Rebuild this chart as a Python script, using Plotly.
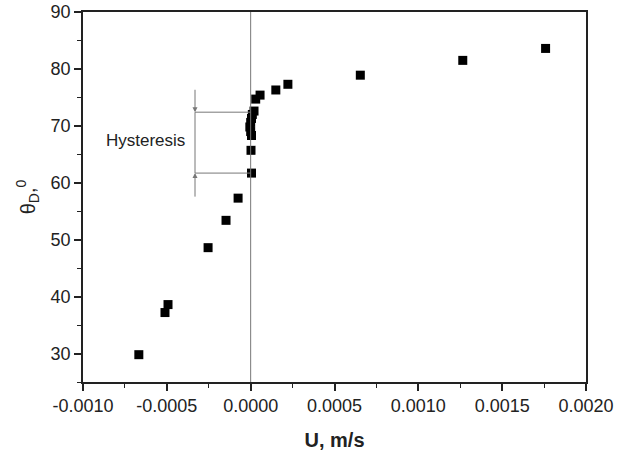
import plotly.graph_objects as go

# Data
U = [-0.000667, -0.000511, -0.000493, -0.000254, -0.000147, -0.000075,
     0.000005, 0.000002, 0.000005, 0.0, -0.000005, 0.0, 0.000005, 0.00001,
     0.00002, 0.00003, 0.000056, 0.00015, 0.000222, 0.000654, 0.001265, 0.001759]
theta = [29.8, 37.2, 38.6, 48.6, 53.4, 57.3,
         61.7, 65.7, 68.3, 69.0, 69.8, 70.6, 71.3, 72.0,
         72.6, 74.7, 75.4, 76.3, 77.3, 78.9, 81.5, 83.6]

x_tickvals = [-0.0010, -0.0005, 0.0, 0.0005, 0.0010, 0.0015, 0.0020]
x_ticktext = ["-0.0010", "-0.0005", "0.0000", "0.0005", "0.0010", "0.0015", "0.0020"]
y_tickvals = [30, 40, 50, 60, 70, 80, 90]

hyst_x = -0.000332
hyst_upper = 72.4
hyst_lower = 61.7
hyst_top = 76.6
hyst_bottom = 57.3

fig = go.Figure()
fig.add_trace(go.Scatter(x=U, y=theta, mode="markers",
                         marker=dict(symbol="square", size=9, color="black"),
                         showlegend=False))

grey = "#777777"
shapes = [
    dict(type="line", xref="x", yref="paper", x0=0, x1=0, y0=0, y1=1,
         line=dict(color=grey, width=1)),
    dict(type="line", xref="x", yref="y", x0=hyst_x, x1=0, y0=hyst_upper, y1=hyst_upper,
         line=dict(color=grey, width=1)),
    dict(type="line", xref="x", yref="y", x0=hyst_x, x1=0, y0=hyst_lower, y1=hyst_lower,
         line=dict(color=grey, width=1)),
    dict(type="line", xref="x", yref="y", x0=hyst_x, x1=hyst_x, y0=hyst_lower, y1=hyst_upper,
         line=dict(color=grey, width=1)),
]
fig.update_layout(shapes=shapes)

fig.add_annotation(x=hyst_x, y=hyst_upper, ax=hyst_x, ay=hyst_top, xref="x", yref="y",
                   axref="x", ayref="y", showarrow=True, arrowhead=2, arrowsize=1,
                   arrowwidth=1, arrowcolor=grey, text="")
fig.add_annotation(x=hyst_x, y=hyst_lower, ax=hyst_x, ay=hyst_bottom, xref="x", yref="y",
                   axref="x", ayref="y", showarrow=True, arrowhead=2, arrowsize=1,
                   arrowwidth=1, arrowcolor=grey, text="")
fig.add_annotation(x=hyst_x, y=(hyst_upper + hyst_lower) / 2 + 0.4, xref="x", yref="y",
                   text="Hysteresis", showarrow=False, xanchor="right", xshift=-8,
                   font=dict(size=17, color="#222222"))

fig.update_layout(
    width=617, height=453,
    paper_bgcolor="white", plot_bgcolor="white",
    margin=dict(l=83, r=31, t=12, b=71),
    font=dict(family="Liberation Sans, Arial, sans-serif", color="#222222"),
    xaxis=dict(range=[-0.0010, 0.0020], tickvals=x_tickvals, ticktext=x_ticktext,
               automargin=False,
               showline=True, linecolor="#222222", linewidth=1.5, mirror=True,
               ticks="outside", ticklen=7, tickwidth=1.5, tickcolor="#222222",
               minor=dict(ticks="outside", ticklen=4, dtick=0.00025, tickcolor="#222222", tickwidth=1.2),
               showgrid=False, zeroline=False,
               tickfont=dict(size=18),
               title=dict(text="<b>U, m/s</b>", font=dict(size=20), standoff=18)),
    yaxis=dict(range=[25, 90], tickvals=y_tickvals,
               automargin=False,
               showline=True, linecolor="#222222", linewidth=1.5, mirror=True,
               ticks="outside", ticklen=7, tickwidth=1.5, tickcolor="#222222",
               minor=dict(ticks="outside", ticklen=4, dtick=5, tickcolor="#222222", tickwidth=1.2),
               showgrid=False, zeroline=False,
               tickfont=dict(size=18),
               title=dict(text="θ<sub>D</sub>,<sup>0</sup>", font=dict(size=20), standoff=10)),
)

fig.write_html("out.html", config={"displayModeBar": False},
               post_script="document.body.style.margin='0';document.body.style.padding='0';")
